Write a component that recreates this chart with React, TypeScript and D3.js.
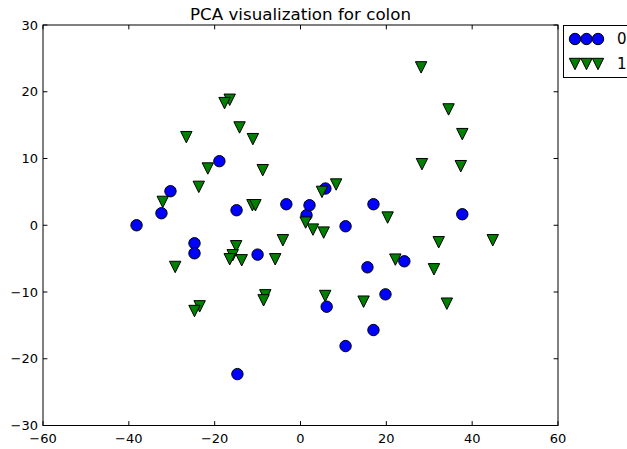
import React from "react";
import * as d3 from "d3";

const title = "PCA visualization for colon";
const xTicks = [-60, -40, -20, 0, 20, 40, 60];
const yTicks = [-30, -20, -10, 0, 10, 20, 30];
const legendLabels = ["0", "1"];

const class0X = [-38.2, -32.4, -30.3, -24.7, -24.7, -18.9, -14.9, -14.7, -10.0, -3.3, 1.4, 2.1, 5.8, 6.1, 10.5, 10.5, 15.6, 17.0, 17.0, 19.8, 24.2, 37.7];
const class0Y = [0.0, 1.8, 5.1, -2.7, -4.2, 9.6, 2.25, -22.3, -4.4, 3.15, 1.5, 3.0, 5.5, -12.2, -0.15, -18.1, -6.3, 3.15, -15.7, -10.35, -5.4, 1.65];

const class1X = [-16.5, -17.7, -26.6, -14.2, -11.1, -21.6, -8.8, -23.7, -32.1, -11.2, -10.5, -15.0, -15.8, -16.5, -13.7, -29.2, -5.9, -4.1, -8.2, -8.6, -23.5, -24.7, 1.2, 2.9, 5.4, 20.3, 32.2, 44.8, 22.1, 31.1, 5.75, 14.7, 34.1, 28.1, 34.5, 37.7, 28.3, 37.35, 8.3, 5.0];
const class1Y = [18.8, 18.3, 13.2, 14.65, 12.9, 8.5, 8.25, 5.75, 3.5, 3.0, 3.0, -3.15, -4.5, -5.1, -5.25, -6.25, -5.1, -2.25, -10.5, -11.25, -12.15, -12.85, 0.4, -0.65, -1.1, 1.15, -2.55, -2.25, -5.15, -6.6, -10.6, -11.45, -11.75, 23.65, 17.35, 13.65, 9.15, 8.85, 6.1, 5.0];

const W = 627, H = 449;
const L = 43, R = 558, T = 25, B = 425.5;
const FONT = "DejaVu Sans, sans-serif";
const MS = 11.4; // marker size px

const triPath = (cx: number, cy: number) => {
  const h = MS / 2;
  return `M${cx},${cy + h}L${cx - h},${cy - h}L${cx + h},${cy - h}Z`;
};
const fmt = (v: number) => (v < 0 ? "\u2212" + Math.abs(v) : String(v));

export default function App() {
  const x = d3.scaleLinear().domain([-60, 60]).range([L, R]);
  const y = d3.scaleLinear().domain([-30, 30]).range([B, T]);
  const tk = 4.4;
  const legX = [575, 586.5, 598];
  const legY = [39, 64];
  return (
    <svg width={W} height={H} style={{ position: "absolute", left: 0, top: 0, background: "#fff" }}>
      <rect x={0} y={0} width={W} height={H} fill="#fff" />
      <text x={(L + R) / 2} y={20} textAnchor="middle" fontFamily={FONT} fontSize={16.7}>{title}</text>
      {class0X.map((v, i) => (
        <circle key={"c" + i} cx={x(v)} cy={y(class0Y[i])} r={MS / 2} fill="#0000ff" stroke="#000" strokeWidth={1} />
      ))}
      {class1X.map((v, i) => (
        <path key={"t" + i} d={triPath(x(v), y(class1Y[i]))} fill="#008000" stroke="#000" strokeWidth={1} strokeLinejoin="miter" />
      ))}
      <rect x={L} y={T} width={R - L} height={B - T} fill="none" stroke="#000" strokeWidth={1} />
      {xTicks.map((t) => (
        <g key={"x" + t}>
          <line x1={x(t)} x2={x(t)} y1={B} y2={B - tk} stroke="#000" />
          <line x1={x(t)} x2={x(t)} y1={T} y2={T + tk} stroke="#000" />
          <text x={x(t)} y={443} textAnchor="middle" fontFamily={FONT} fontSize={13}>{fmt(t)}</text>
        </g>
      ))}
      {yTicks.map((t) => (
        <g key={"y" + t}>
          <line x1={L} x2={L + tk} y1={y(t)} y2={y(t)} stroke="#000" />
          <line x1={R} x2={R - tk} y1={y(t)} y2={y(t)} stroke="#000" />
          <text x={38} y={y(t) + 4.5} textAnchor="end" fontFamily={FONT} fontSize={13}>{fmt(t)}</text>
        </g>
      ))}
      <rect x={563.5} y={25.5} width={70} height={52} fill="#fff" stroke="#000" strokeWidth={1} />
      {legendLabels.map((lab, r) => (
        <g key={"l" + r}>
          {legX.map((lx, j) =>
            r === 0 ? (
              <circle key={j} cx={lx} cy={legY[r]} r={MS / 2} fill="#0000ff" stroke="#000" />
            ) : (
              <path key={j} d={triPath(lx, legY[r])} fill="#008000" stroke="#000" />
            )
          )}
          <text x={617} y={legY[r] + 5} fontFamily={FONT} fontSize={15}>{lab}</text>
        </g>
      ))}
    </svg>
  );
}
